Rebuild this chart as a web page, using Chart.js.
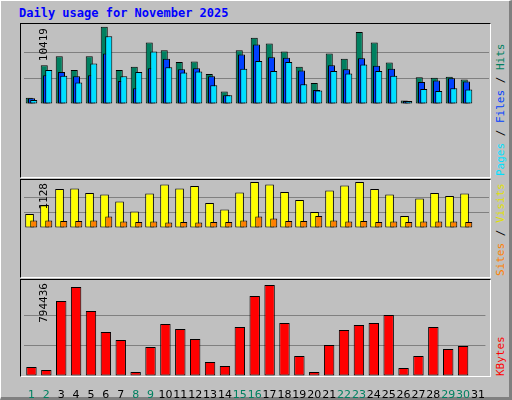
<!DOCTYPE html>
<html><head><meta charset="utf-8">
<script src="https://cdn.jsdelivr.net/npm/chart.js@4/dist/chart.umd.min.js"></script>
<style>
body{margin:0;background:#c0c0c0;}
#frame{position:absolute;left:0;top:0;width:508px;height:396px;background:#c0c0c0;border-style:solid;border-width:1px 3px 3px 1px;border-color:#ffffff #808080 #808080 #ffffff;}
.panel{position:absolute;left:20px;width:469px;border-style:solid;border-width:1px;border-color:#000 #fff #fff #000;}
canvas{position:absolute;}
.v{position:absolute;writing-mode:vertical-rl;transform:rotate(180deg);font-family:"DejaVu Sans Mono",monospace;font-size:11px;white-space:nowrap;}
#title{position:absolute;left:19px;top:6px;font-family:"DejaVu Sans Mono",monospace;font-weight:bold;font-size:12px;color:#0000ff;}
</style></head><body>
<div id="frame"></div>
<div id="title">Daily usage for November 2025</div>
<div class="panel" style="top:23px;height:153px"></div>
<div class="panel" style="top:179px;height:97px"></div>
<div class="panel" style="top:279px;height:96px"></div>
<canvas id="c1" width="470" height="152" style="left:20px;top:24px"></canvas>
<canvas id="c2" width="470" height="96" style="left:20px;top:180px"></canvas>
<canvas id="c3" width="470" height="120" style="left:20px;top:280px"></canvas>
<div class="v" style="left:37px;top:28px">10419</div>
<div class="v" style="left:37px;top:183px">1128</div>
<div class="v" style="left:37px;top:283px">794436</div>
<div class="v" style="left:494px;top:28px;height:148px;text-align:left"><span style="color:#00e0ff">Pages</span> / <span style="color:#0040ff">Files</span> / <span style="color:#008060">Hits</span></div>
<div class="v" style="left:494px;top:188px;height:88px;text-align:left"><span style="color:#ff8000">Sites</span> / <span style="color:#e0e000">Visits</span></div>
<div class="v" style="left:494px;top:330px;height:46px;text-align:left"><span style="color:#ff0000">KBytes</span></div>
<script>
const days = Array.from({length:31},(_,i)=>String(i+1));
const weekendDays = [1,2,8,9,15,16,22,23,29,30];
const hits = [829,5233,6441,4594,6441,10419,4594,5020,8288,7222,5660,5731,4026,1681,7222,8927,8146,7080,5020,2818,6796,6086,9709,8288,5588,474,3599,3528,3670,3315];
const files = [758,3884,4310,3741,3884,6796,3102,2108,4807,6086,4665,4807,3741,1184,6654,8004,6299,6228,4523,1894,5233,4665,6157,5162,4736,403,2960,3173,3457,3031];
const pages = [545,4594,3812,2889,5446,9140,3741,4310,7080,4949,4239,4381,2534,1184,4736,5802,4452,5660,2676,1823,4452,4097,5304,4452,3812,403,2036,1752,2108,1965];
const visits = [343,564,956,969,858,821,650,405,846,1067,969,1030,613,454,871,1128,1067,883,687,392,920,1042,1128,956,821,294,723,858,785,846];
const sites = [184,184,172,172,184,282,159,147,159,135,147,135,147,147,184,282,233,172,172,294,184,159,172,147,159,147,159,159,159,147];
const kbytes = [78570,52380,654750,776970,567450,384120,314280,34920,253170,453960,410310,323010,122220,87300,427770,698400,794436,462690,174600,34920,270630,401580,445230,462690,532530,69840,174600,427770,235710,261900];
const maxHits = 10419, maxVisits = 1128, maxKB = 794436;

function yScale(max, top){
  return {min:0,max:max*top,display:true,
    ticks:{display:false},border:{display:false},
    grid:{drawTicks:false,color:c=>(c.index===1||c.index===2)?'#808080':'rgba(0,0,0,0)'},
    afterBuildTicks:s=>{s.ticks=[0,max/3,2*max/3,max].map(v=>({value:v}));}};
}
function xAxis(shift, show){
  return {type:'linear',display:show,min:0.5+shift,max:31.5+shift,offset:false,
    grid:{display:false},border:{display:false},
    afterBuildTicks:s=>{s.ticks=days.map((d,i)=>({value:i+1}));},
    ticks:{padding:5,autoSkip:false,maxRotation:0,font:{family:'DejaVu Sans',size:11},
      callback:v=>days[v-1],
      color:c=>weekendDays.includes(c.tick.value)?'#008060':'#000'},
    afterFit:s=>{s.height=24;}};
}
const pts = arr => arr.map((v,i)=>({x:i+1,y:v}));
const ds=(data,color,axis,bp)=>({data:pts(data),backgroundColor:color,borderColor:'#000',borderWidth:1,borderSkipped:false,xAxisID:axis,grouped:false,categoryPercentage:1,barPercentage:bp});
function make(id,datasets,xs,max,top){
  const scales={y:yScale(max,top)};
  Object.assign(scales,xs);
  new Chart(document.getElementById(id),{type:'bar',data:{datasets},
    options:{responsive:false,animation:false,devicePixelRatio:1,
      layout:{padding:{left:4,right:1,top:0,bottom:0}},
      plugins:{legend:{display:false},tooltip:{enabled:false}},scales}});
}
make('c1',[ds(pages,'#00e0ff','xp',0.47),ds(files,'#0040ff','xf',0.47),ds(hits,'#008060','xh',0.47)],
  {xh:xAxis(0.15,false),xf:xAxis(0,false),xp:xAxis(-0.15,false)},maxHits,152/147);
make('c2',[ds(sites,'#ff8000','xs',0.47),ds(visits,'#ffff00','xv',0.58)],
  {xv:xAxis(0.13,false),xs:xAxis(-0.15,false)},maxVisits,96/92);
make('c3',[ds(kbytes,'#ff0000','xk',0.7)],{xk:xAxis(0,true)},maxKB,96/91);
</script>
</body></html>
